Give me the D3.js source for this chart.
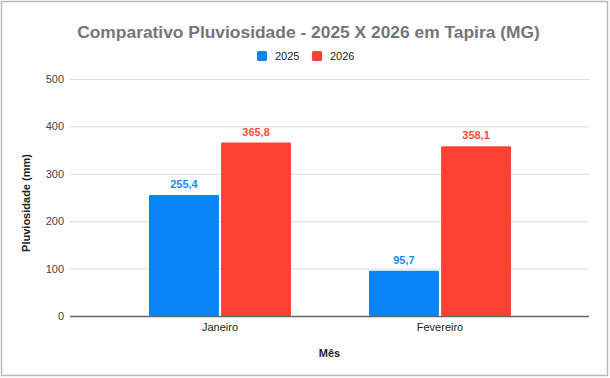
<!DOCTYPE html>
<html><head><meta charset="utf-8">
<script src="https://cdn.jsdelivr.net/npm/d3@7"></script>
<style>body{margin:0;background:#fff}svg{display:block}</style>
</head><body>
<svg id="c" width="610" height="378"></svg>
<script>
const categories = ["Janeiro", "Fevereiro"];
const seriesNames = ["2025", "2026"];
const values2025 = [255.4, 95.7];
const values2026 = [365.8, 358.1];
const yTicks = [0, 100, 200, 300, 400, 500];
const title = "Comparativo Pluviosidade - 2025 X 2026 em Tapira (MG)";
const yTitle = "Pluviosidade (mm)";
const xTitle = "Mês";

const colors = ["#0a84f7", "#fd4132"];
const labelColors = ["#1a8cf8", "#fd4a3b"];
const font = "'Liberation Sans', Arial, sans-serif";

const svg = d3.select("#c");
svg.append("rect").attr("x",1.5).attr("y",1.5).attr("width",606).attr("height",374)
  .attr("fill","#fff").attr("stroke","#b8b8b8").attr("stroke-width",1.5);

const plotL = 70, plotR = 589;
const y = d3.scaleLinear().domain([0,500]).range([316,79]);
const x = d3.scaleBand().domain(categories).range([110,550]);
const inner = d3.scaleBand().domain(seriesNames).range([0,142]).paddingInner(0.03);
const groupOff = (x.bandwidth()-142)/2;

// grid
svg.append("g").selectAll("line").data(yTicks.filter(d=>d>0)).join("line")
  .attr("x1",plotL).attr("x2",plotR).attr("y1",d=>y(d)+0.5).attr("y2",d=>y(d)+0.5)
  .attr("stroke","#dcdcdc").attr("stroke-width",1);

// y tick labels
svg.append("g").selectAll("text").data(yTicks).join("text")
  .attr("x",64).attr("y",d=>y(d)+4).attr("text-anchor","end")
  .attr("font-family",font).attr("font-size",11).attr("fill","#444").text(d=>d);

const data = categories.map((c,i)=>({c, vals:[values2025[i], values2026[i]]}));
data.forEach(d=>{
  d.vals.forEach((v,j)=>{
    const bx = x(d.c)+groupOff+inner(seriesNames[j]);
    svg.append("rect").attr("x",bx).attr("y",y(v)).attr("width",inner.bandwidth())
      .attr("height",y(0)-y(v)).attr("fill",colors[j]).attr("rx",1);
    svg.append("text").attr("x",bx+inner.bandwidth()/2).attr("y",y(v)-7)
      .attr("text-anchor","middle").attr("font-family",font).attr("font-size",11)
      .attr("font-weight","bold").attr("fill",labelColors[j])
      .text(d3.format(".1f")(v).replace(".",","));
  });
});

// axis line
svg.append("line").attr("x1",plotL).attr("x2",plotR).attr("y1",y(0)+0.5).attr("y2",y(0)+0.5)
  .attr("stroke","#666").attr("stroke-width",1.3);

// x labels
svg.append("g").selectAll("text").data(categories).join("text")
  .attr("x",d=>x(d)+x.bandwidth()/2).attr("y",331).attr("text-anchor","middle")
  .attr("font-family",font).attr("font-size",11).attr("fill","#222").text(d=>d);

// titles
svg.append("text").attr("x",308.5).attr("y",37.5).attr("text-anchor","middle")
  .attr("font-family",font).attr("font-size",17.4).attr("font-weight","bold").attr("fill","#757575").text(title);
svg.append("text").attr("x",(plotL+plotR)/2).attr("y",357).attr("text-anchor","middle")
  .attr("font-family",font).attr("font-size",11).attr("font-weight","bold").attr("fill","#222").text(xTitle);
svg.append("text").attr("transform","translate(30,203) rotate(-90)").attr("text-anchor","middle")
  .attr("font-family",font).attr("font-size",11).attr("font-weight","bold").attr("fill","#222").text(yTitle);

// legend
const leg = svg.append("g");
const legX = [257, 312];
seriesNames.forEach((s,i)=>{
  leg.append("rect").attr("x",legX[i]).attr("y",51).attr("width",10).attr("height",10).attr("rx",1.5).attr("fill",colors[i]);
  leg.append("text").attr("x",legX[i]+18).attr("y",60).attr("font-family",font).attr("font-size",11)
    .attr("fill","#222").text(s);
});
</script>
</body></html>
